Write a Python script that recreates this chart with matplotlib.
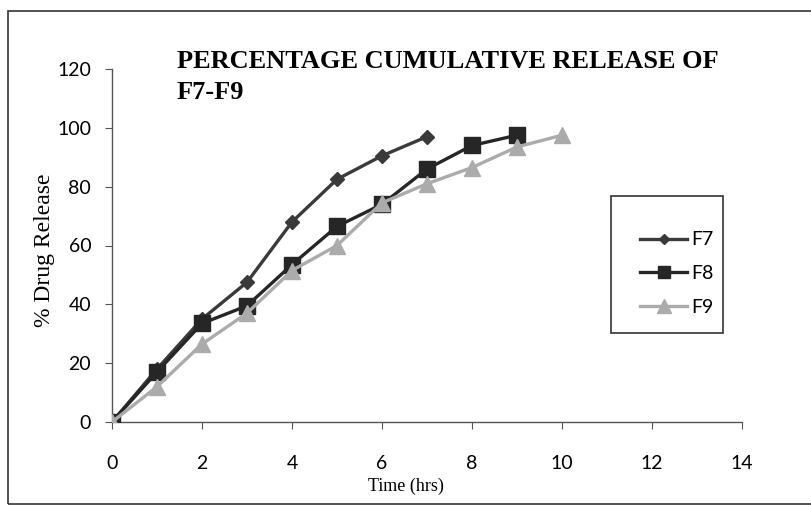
import matplotlib
matplotlib.use("Agg")
import matplotlib.pyplot as plt
from matplotlib.patches import Rectangle

# data
timeF7 = [0, 1, 2, 3, 4, 5, 6, 7]
releaseF7 = [0, 18, 35, 47.5, 68, 82.5, 90.5, 97]
timeF8 = [0, 1, 2, 3, 4, 5, 6, 7, 8, 9]
releaseF8 = [0, 17, 33.5, 39.5, 53.5, 66.5, 74, 86, 94, 97.5]
timeF9 = [0, 1, 2, 3, 4, 5, 6, 7, 8, 9, 10]
releaseF9 = [0, 12, 26.5, 37, 51.5, 60, 74.5, 81, 86.5, 93.5, 97.5]
xTicks = [0, 2, 4, 6, 8, 10, 12, 14]
yTicks = [0, 20, 40, 60, 80, 100, 120]

W, H = 812, 505
fig = plt.figure(figsize=(W / 100, H / 100), dpi=100)
ax = fig.add_axes([112 / W, 1 - 422 / H, (742 - 112) / W, (422 - 69) / H])

serif = "Liberation Serif"
sans = "Lato"

ax.plot(timeF7, releaseF7, color="#3a3a3a", lw=2.4, marker="D", markersize=7, label="F7", zorder=3)
ax.plot(timeF8, releaseF8, color="#262626", lw=2.4, marker="s", markersize=11, label="F8", zorder=3)
ax.plot(timeF9, releaseF9, color="#ababab", lw=2.4, marker="^", markersize=12, label="F9", zorder=4)

ax.set_xlim(0, 14)
ax.set_ylim(0, 120)
ax.set_xticks(xTicks)
ax.set_yticks(yTicks)
ax.spines["top"].set_visible(False)
ax.spines["right"].set_visible(False)
for s in ["left", "bottom"]:
    ax.spines[s].set_color("#555555")
    ax.spines[s].set_linewidth(1.0)
ax.tick_params(axis="y", length=5, pad=10, color="#555555")
ax.tick_params(axis="x", length=5, pad=19, color="#555555")
for lab in ax.get_xticklabels() + ax.get_yticklabels():
    lab.set_fontfamily(sans)
    lab.set_fontsize(14)

fig.text(45 / W, 1 - 250 / H, "% Drug Release", rotation=90, ha="center", va="center",
         fontfamily=serif, fontsize=17)
fig.text(406 / W, 1 - 486 / H, "Time (hrs)", ha="center", va="center",
         fontfamily=serif, fontsize=13)

fig.text(177 / W, 1 - 50 / H, "PERCENTAGE CUMULATIVE RELEASE OF\nF7-F9", ha="left", va="top",
         fontfamily=serif, fontweight="bold", fontsize=19, linespacing=1.45)

# legend box
fig.patches.append(Rectangle((611 / W, 1 - 333 / H), (723 - 611) / W, (333 - 196) / H,
                             transform=fig.transFigure, fill=False, edgecolor="#333333", lw=1.2))
fig.legend(loc="center right", bbox_to_anchor=(611 / W, 1 - 351 / H, (723 - 611) / W, (351 - 196) / H),
           frameon=False, handlelength=2.4, handletextpad=0.2, labelspacing=0.85, markerscale=0.8,
           prop={"family": sans, "size": 14}, borderaxespad=0.1)

# outer chart frame
fig.patches.append(Rectangle((8 / W, 1 - 504 / H), 1.0, (504 - 11) / H,
                             transform=fig.transFigure, fill=False, edgecolor="#333333", lw=1.2))

fig.savefig("out.png", dpi=100)
